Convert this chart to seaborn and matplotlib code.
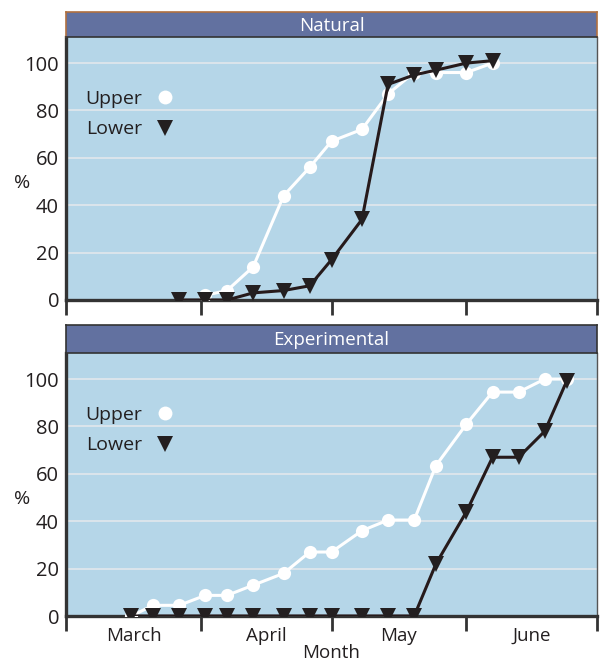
import matplotlib
matplotlib.use("Agg")
import matplotlib.pyplot as plt
import pandas as pd
import seaborn as sns
from matplotlib.lines import Line2D

# Sampling days, counted from 1 March
natural_days = [26, 32, 37, 43, 50, 56, 61, 68, 74, 80, 85, 92, 98]
natural_upper = [None, 2, 4, 14, 44, 56, 67, 72, 87, 96, 96, 96, 100]
natural_lower = [0, 0, 0, 3, 4, 6, 17, 34, 91, 95, 97, 100, 101]

experimental_days = [15, 20, 26, 32, 37, 43, 50, 56, 61, 68, 74, 80, 85, 92, 98, 104, 110, 115]
experimental_upper = [0, 4.5, 4.5, 8.7, 8.7, 13, 18, 27, 27, 36, 40.5, 40.5, 63.5, 81, 94.5, 94.5, 100, 100]
experimental_lower = [0, 0, 0, 0, 0, 0, 0, 0, 0, 0, 0, 0, 22, 44, 67, 67, 78, 99]

month_names = ['March', 'April', 'May', 'June']
month_starts = [0, 31, 61, 92, 122]
y_ticks = [0, 20, 40, 60, 80, 100]

panels = [
    ('Natural', natural_days, natural_upper, natural_lower),
    ('Experimental', experimental_days, experimental_upper, experimental_lower),
]

sns.set_style('ticks')
plt.rcParams['font.family'] = ['Open Sans', 'DejaVu Sans']

BG = '#b5d6e8'
HEAD = '#6271a0'
DARK = '#231f20'

fig = plt.figure(figsize=(6.03, 6.63), dpi=100)
W, H = 603, 663

# pixel boxes: (left, top, right, bottom) for header and plot area
boxes = [((66, 12, 597, 37), (66, 37, 597, 300)),
         ((66, 325, 597, 353), (66, 353, 597, 616))]

month_mid = [(a + b) / 2 for a, b in zip(month_starts[:-1], month_starts[1:])]

for i, (title, days, upper, lower) in enumerate(panels):
    hbox, pbox = boxes[i]
    ax = fig.add_axes([pbox[0] / W, 1 - pbox[3] / H, (pbox[2] - pbox[0]) / W, (pbox[3] - pbox[1]) / H])
    hx = fig.add_axes([hbox[0] / W, 1 - hbox[3] / H, (hbox[2] - hbox[0]) / W, (hbox[3] - hbox[1]) / H])

    df = pd.DataFrame({'day': days, 'Upper': upper, 'Lower': lower})
    up = df.dropna(subset=['Upper'])

    ax.set_facecolor(BG)
    sns.lineplot(data=up, x='day', y='Upper', ax=ax, color='white', lw=2.2,
                 marker='o', markersize=9.5, markeredgecolor='white', markeredgewidth=0,
                 errorbar=None, legend=False, zorder=3)
    sns.lineplot(data=df, x='day', y='Lower', ax=ax, color='#261a1b', lw=2.2,
                 marker='v', markersize=11.5, markerfacecolor=DARK, markeredgecolor=DARK,
                 markeredgewidth=0, errorbar=None, legend=False, zorder=4)

    ax.set_xlim(month_starts[0], month_starts[-1])
    ax.set_ylim(0, 111)
    ax.set_yticks(y_ticks)
    ax.set_yticklabels([str(v) for v in y_ticks])
    for v in y_ticks[1:]:
        ax.axhline(v, color='#e2e8ec', lw=1.2, zorder=1)

    ax.set_xticks(month_starts)
    ax.set_xticklabels([])
    ax.set_xticks(month_mid, minor=True)
    ax.tick_params(axis='x', which='major', direction='out', length=11, width=2, color='#333333')
    ax.tick_params(axis='x', which='minor', length=0, pad=8, labelsize=13.5, labelcolor=DARK)
    ax.tick_params(axis='y', length=0, pad=5, labelsize=14.5, labelcolor=DARK)
    if i == 1:
        ax.set_xticklabels(month_names, minor=True)
        ax.set_xlabel('Month', fontsize=13.5, color=DARK, labelpad=-1)
    else:
        ax.set_xticklabels([], minor=True)
        ax.set_xlabel('')

    ax.set_ylabel('%', fontsize=14, color=DARK, rotation=0, va='center', ha='center')
    ax.yaxis.set_label_coords(-0.083, 0.445)

    for side in ['left', 'bottom']:
        ax.spines[side].set_color('#333333')
        ax.spines[side].set_linewidth(2.4)
    ax.spines['right'].set_color('#555555')
    ax.spines['right'].set_linewidth(1)
    ax.spines['top'].set_visible(False)

    handles = [Line2D([], [], ls='none', marker='o', color='white', markersize=10, markeredgewidth=0),
               Line2D([], [], ls='none', marker='v', color=DARK, markersize=12, markeredgewidth=0)]
    ax.legend(handles, ['Upper', 'Lower'], loc='upper left', bbox_to_anchor=(0.021, 0.829),
              borderaxespad=0, frameon=False, markerfirst=False, handlelength=1.0,
              handletextpad=0.7, labelspacing=0.65, fontsize=14, labelcolor=DARK)

    # header strip
    hx.set_facecolor(HEAD)
    hx.set_xticks([])
    hx.set_yticks([])
    edge = '#b07040' if i == 0 else '#333333'
    for side in ['top', 'left', 'right']:
        hx.spines[side].set_color(edge)
        hx.spines[side].set_linewidth(1.2)
    hx.spines['bottom'].set_color('#333333')
    hx.spines['bottom'].set_linewidth(1.2)
    hx.text(0.5, 0.45, title, color='white', fontsize=13.5, ha='center', va='center',
            transform=hx.transAxes)

fig.savefig('out.png', dpi=100)
